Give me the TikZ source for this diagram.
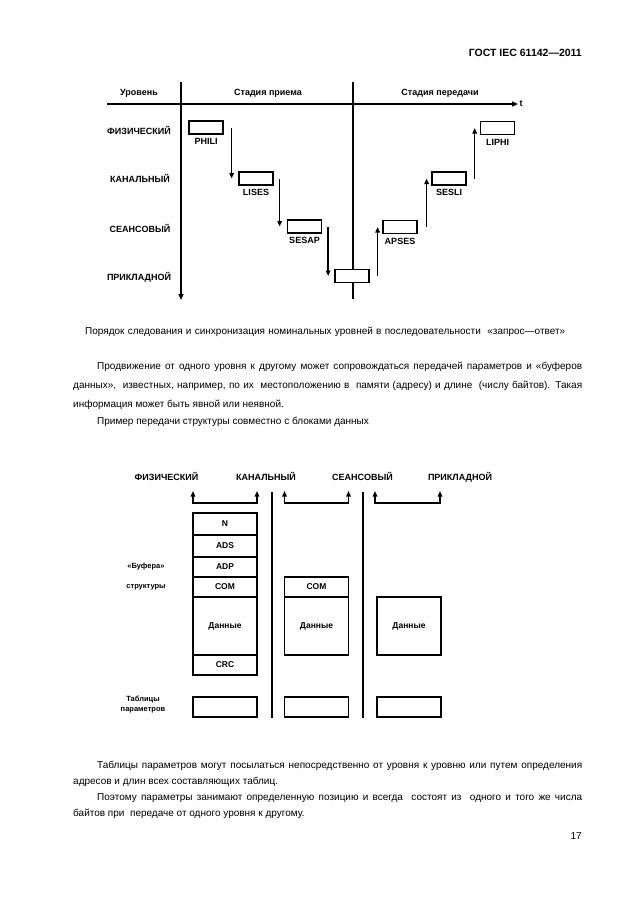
\documentclass[tikz,border=0pt]{standalone}
\usepackage{fontspec}
\setmainfont{Liberation Sans}
\usetikzlibrary{arrows.meta,positioning,calc}

\newcommand{\lbl}{\fontsize{9}{10}\selectfont\bfseries}
\newcommand{\cellf}{\fontsize{8.5}{10}\selectfont\bfseries}
\newcommand{\sidef}{\fontsize{7.5}{8}\selectfont\bfseries}
\newcommand{\txt}{\fontsize{10}{12}\selectfont}
\newcommand{\jline}[2]{\makebox[#1][s]{#2}}

\tikzset{
  lvl/.style={font=\lbl, inner sep=0pt},
  side/.style={font=\sidef, inner sep=0pt},
  stagebox/.style={
    draw, line width=1.3pt, fill=white,
    minimum width=34pt, minimum height=13pt, inner sep=0pt
  },
  tag/.style={font=\lbl, inner sep=0pt, below=3.5pt of #1},
  cell/.style={
    draw, line width=1.4pt, fill=white, minimum width=64pt,
    inner sep=0pt, outer sep=0pt, font=\cellf
  },
  axis/.style={line width=1.4pt},
  arr/.style={-{Triangle[length=5.5pt,width=4.5pt]}, line width=1.4pt},
  bracket/.style={{Triangle[length=5.5pt,width=4.5pt]}-{Triangle[length=5.5pt,width=4.5pt]}, line width=1.4pt},
  para/.style={font=\txt, inner sep=0pt, anchor=base west}
}

\begin{document}
\begin{tikzpicture}[x=1pt, y=-1pt]
  \fill[white] (0,0) rectangle (630,913);
  \useasboundingbox (0,0) rectangle (630,913);

  % page header
  \node[font=\fontsize{10.5}{12}\selectfont\bfseries, inner sep=0pt, anchor=east]
    (gost) at (582,53) {ГОСТ IEC 61142—2011};

  % ---- time chart ----
  \draw[axis, -{Triangle[length=6pt,width=5pt]}] (181,82) -- (181,300);
  \draw[axis] (353,82) -- (353,299);
  \draw[axis, -{Triangle[length=6pt,width=5pt]}] (107,104) -- (518,104)
    node[lvl, right=1pt] (tlab) {t};

  \node[lvl] (hlev) at (139,93) {Уровень};
  \node[lvl] (hrx)  at (268,93) {Стадия приема};
  \node[lvl] (htx)  at (440,93) {Стадия передачи};

  \node[lvl] (lphy) at (139,130) {ФИЗИЧЕСКИЙ};
  \node[lvl] (llnk) at (140,178) {КАНАЛЬНЫЙ};
  \node[lvl] (lses) at (140,228) {СЕАНСОВЫЙ};
  \node[lvl] (lapp) at (139,277) {ПРИКЛАДНОЙ};

  \node[stagebox] (philib) at (206,127.5) {};
  \node[stagebox] (lisesb) at (256,178.5) {};
  \node[stagebox] (sesapb) at (304.5,226.5) {};
  \node[stagebox] (applb)  at (352,276) {};
  \node[stagebox] (apsesb) at (400,227) {};
  \node[stagebox] (seslib) at (449,178.5) {};
  \node[stagebox] (liphib) at (497.5,128) {};

  \node[tag=philib] {PHILI};
  \node[tag=lisesb] {LISES};
  \node[tag=sesapb] {SESAP};
  \node[tag=apsesb] {APSES};
  \node[tag=seslib] {SESLI};
  \node[tag=liphib] {LIPHI};

  \draw[arr] ($(philib.east)+(8,0)$) -- ($(philib.east |- lisesb.west)+(8,0)$);
  \draw[arr] ($(lisesb.east)+(6,0)$) -- ($(lisesb.east |- sesapb.west)+(6,0)$);
  \draw[arr] ($(sesapb.east)+(6,0)$) -- ($(sesapb.east |- applb.west)+(6,0)$);
  \draw[arr] ($(applb.east)+(8,0)$)  -- ($(applb.east |- apsesb.west)+(8,0)$);
  \draw[arr] ($(apsesb.east)+(9,0)$) -- ($(apsesb.east |- seslib.west)+(9,0)$);
  \draw[arr] ($(seslib.east)+(8,0)$) -- ($(seslib.east |- liphib.west)+(8,0)$);

  % ---- text ----
  \node[para] (capt) at (85,334)
    {\jline{480pt}{Порядок следования и синхронизация номинальных уровней в последовательности \ «запрос—ответ»}};

  \node[para] (p1a) at (97,369)
    {\jline{485pt}{Продвижение от одного уровня к другому может сопровождаться передачей параметров и «буферов}};
  \node[para] (p1b) at (73,388)
    {\jline{509pt}{данных», \ известных, например, по их \ местоположению в \ памяти (адресу) и длине \ (числу байтов). Такая}};
  \node[para] (p1c) at (73,407) {информация может быть явной или неявной.};
  \node[para] (p2) at (97,424) {Пример передачи структуры совместно с блоками данных};

  % ---- buffer chart ----
  \node[lvl] (hphy) at (166.5,476) {ФИЗИЧЕСКИЙ};
  \node[lvl] (hlnk) at (266,476)   {КАНАЛЬНЫЙ};
  \node[lvl] (hses) at (362.5,476) {СЕАНСОВЫЙ};
  \node[lvl] (happ) at (460,477)   {ПРИКЛАДНОЙ};

  \draw[axis] (272,492) -- (272,718);
  \draw[axis] (363,492) -- (363,718);

  \node[cell, minimum height=22pt] (cN) at (225,524) {N};
  \node[cell, minimum height=22pt, below=0pt of cN]   (cADS) {ADS};
  \node[cell, minimum height=20pt, below=0pt of cADS] (cADP) {ADP};
  \node[cell, minimum height=20pt, below=0pt of cADP] (cCOM) {COM};
  \node[cell, minimum height=58pt, below=0pt of cCOM] (cDat) {Данные};
  \node[cell, minimum height=20pt, below=0pt of cDat] (cCRC) {CRC};

  \node[cell, minimum height=20pt] (kCOM) at (316.5,587) {COM};
  \node[cell, minimum height=58pt, below=0pt of kCOM] (kDat) {Данные};

  \node[cell, minimum height=58pt] (sDat) at (409,626) {Данные};

  \node[cell, minimum height=20pt] (pPhy) at (225,707) {};
  \node[cell, minimum height=20pt] (pLnk) at (316.5,707) {};
  \node[cell, minimum height=20pt] (pSes) at (409,707) {};

  \draw[bracket] ($(cN.north west)+(0,-22)$) -- ($(cN.north west)+(0,-10)$)
    -- ($(cN.north east)+(0,-10)$) -- ($(cN.north east)+(0,-22)$);
  \draw[bracket] ($(kCOM.west |- cN.north)+(0,-22)$) -- ($(kCOM.west |- cN.north)+(0,-10)$)
    -- ($(kCOM.east |- cN.north)+(0,-10)$) -- ($(kCOM.east |- cN.north)+(0,-22)$);
  \draw[bracket] ($(sDat.west |- cN.north)+(-2,-22)$) -- ($(sDat.west |- cN.north)+(-2,-10)$)
    -- ($(sDat.east |- cN.north)+(-1,-10)$) -- ($(sDat.east |- cN.north)+(-1,-22)$);

  \node[side] (lbuf) at (146,567) {«Буфера»};
  \node[side] (lstr) at (146,587) {структуры};
  \node[side] (ltab) at (143,699) {Таблицы};
  \node[side] (lpar) at (143,710) {параметров};

  % ---- text ----
  \node[para] (p3a) at (97,768)
    {\jline{485pt}{Таблицы параметров могут посылаться непосредственно от уровня к уровню или путем определения}};
  \node[para] (p3b) at (73,784) {адресов и длин всех составляющих таблиц.};
  \node[para] (p4a) at (97,800)
    {\jline{485pt}{Поэтому параметры занимают определенную позицию и всегда \ состоят из \ одного и того же числа}};
  \node[para] (p4b) at (73,816) {байтов при \ передаче от одного уровня к другому.};

  \node[font=\txt, inner sep=0pt, anchor=base east] (pgno) at (582,839) {17};
\end{tikzpicture}
\end{document}
